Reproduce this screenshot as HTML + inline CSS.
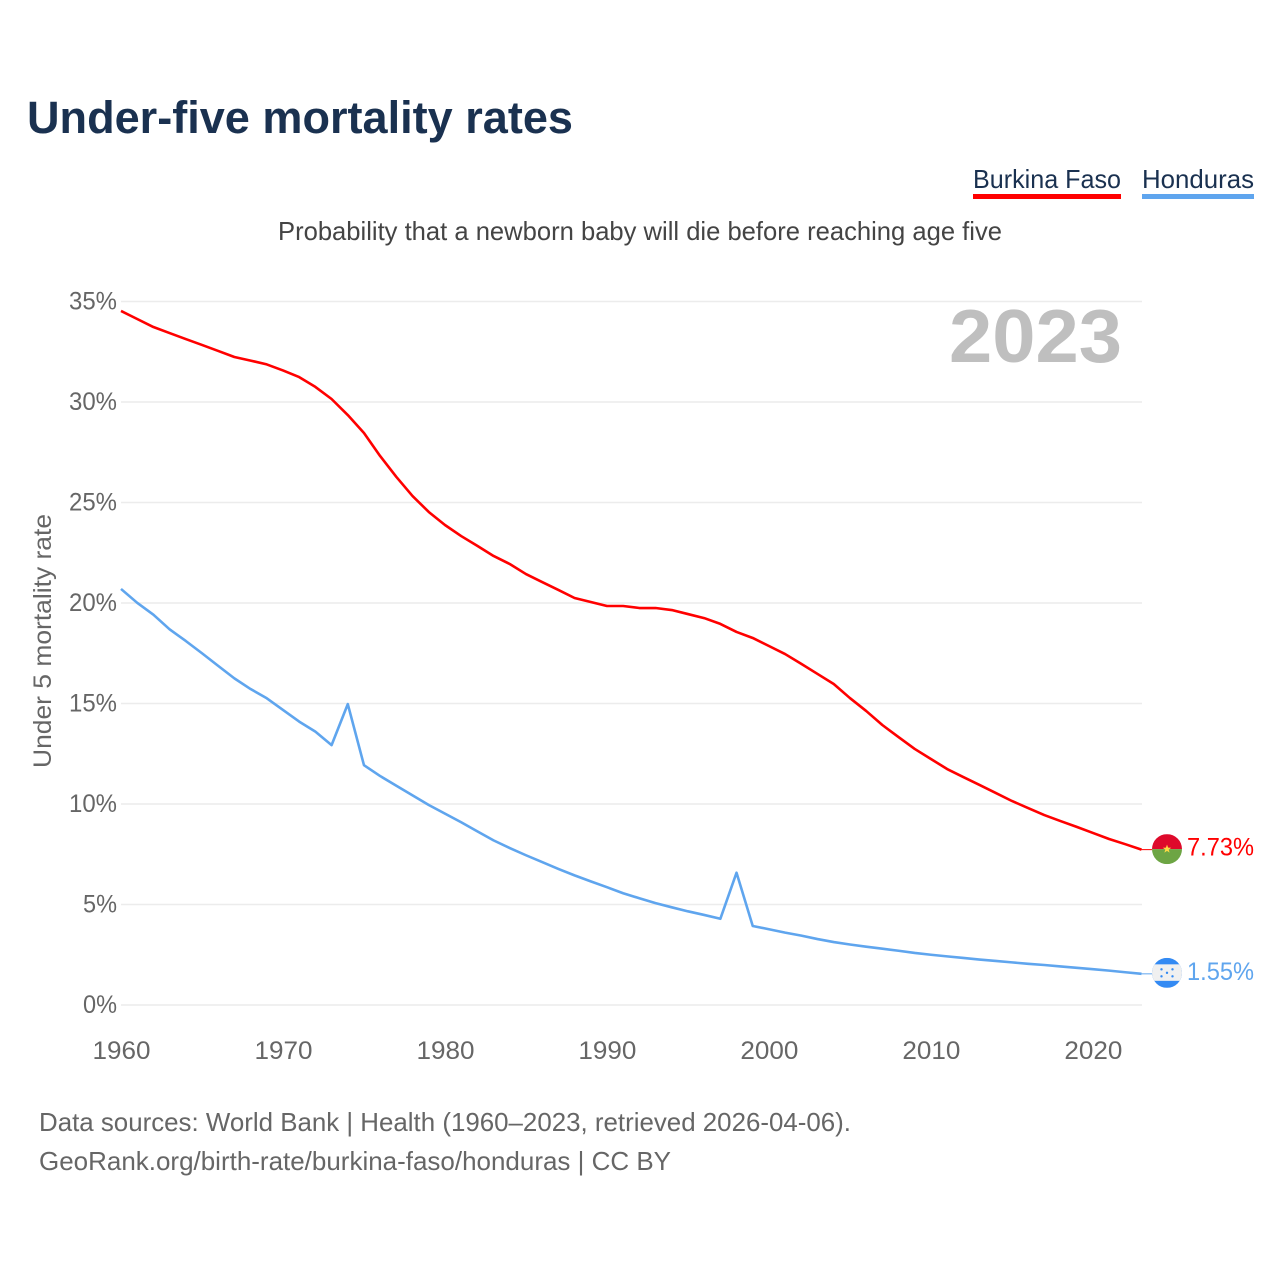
<!DOCTYPE html>
<html lang="en">
<head>
<meta charset="utf-8">
<title>Under-five mortality rates</title>
<style>
html,body{margin:0;padding:0;background:#fff;width:1280px;height:1280px;overflow:hidden}
svg{display:block;font-family:"Liberation Sans",Arial,sans-serif}
</style>
</head>
<body>
<svg id="chart" xmlns="http://www.w3.org/2000/svg" width="1280" height="1280" viewBox="0 0 1280 1280">
  <text x="27" y="133" font-size="45" font-weight="700" fill="#1a3150" textLength="546" lengthAdjust="spacingAndGlyphs">Under-five mortality rates</text>
  <g>
    <g>
      <text x="973" y="188" font-size="26" fill="#1a3150" textLength="148" lengthAdjust="spacingAndGlyphs">Burkina Faso</text>
      <rect x="973" y="194" width="148" height="5" fill="#ff0000"/>
    </g>
    <g>
      <text x="1142" y="188" font-size="26" fill="#1a3150" textLength="112" lengthAdjust="spacingAndGlyphs">Honduras</text>
      <rect x="1142" y="194" width="112" height="5" fill="#5fa5ee"/>
    </g>
  </g>
  <text x="278" y="240" font-size="26" fill="#444444" textLength="724" lengthAdjust="spacingAndGlyphs">Probability that a newborn baby will die before reaching age five</text>
  <g id="grid"></g>
  <g id="yticks"></g>
  <g id="xticks"></g>
  <text transform="translate(51,641) rotate(-90)" text-anchor="middle" font-size="25" fill="#666666" textLength="254" lengthAdjust="spacingAndGlyphs">Under 5 mortality rate</text>
  <text x="949" y="362" font-size="75" font-weight="700" fill="#bfbfbf" textLength="173" lengthAdjust="spacingAndGlyphs">2023</text>
  <g id="series"></g>
  <g id="flag-bf">
    <clipPath id="clip-bf"><circle cx="0" cy="0" r="15"/></clipPath>
    <g clip-path="url(#clip-bf)">
      <rect x="-15" y="-15" width="30" height="15" fill="#de0a2b"/>
      <rect x="-15" y="0" width="30" height="15" fill="#6da544"/>
      <polygon points="0,-4.5 1.1,-1.5 4.2,-1.4 1.7,0.5 2.6,3.5 0,1.7 -2.6,3.5 -1.7,0.5 -4.2,-1.4 -1.1,-1.5" fill="#ffda44"/>
    </g>
  </g>
  <g id="flag-hn">
    <clipPath id="clip-hn"><circle cx="0" cy="0" r="15"/></clipPath>
    <g clip-path="url(#clip-hn)">
      <rect x="-15" y="-15" width="30" height="30" fill="#338af3"/>
      <rect x="-15" y="-8.5" width="30" height="16.5" fill="#f0f0f0"/>
      <g fill="#338af3">
        <circle cx="-5.5" cy="-3.5" r="1.2"/><circle cx="5.5" cy="-3.5" r="1.2"/>
        <circle cx="0" cy="0" r="1.2"/>
        <circle cx="-5.5" cy="3.5" r="1.2"/><circle cx="5.5" cy="3.5" r="1.2"/>
      </g>
    </g>
  </g>
  <g id="endlabels"></g>
  <text x="39" y="1131" font-size="26" fill="#666666" textLength="812" lengthAdjust="spacingAndGlyphs">Data sources: World Bank | Health (1960–2023, retrieved 2026-04-06).</text>
  <text x="39" y="1170" font-size="26" fill="#666666" textLength="632" lengthAdjust="spacingAndGlyphs">GeoRank.org/birth-rate/burkina-faso/honduras | CC BY</text>
</svg>
<script>
const startYear = 1960;
const endYear = 2023;
const xTickYears = [1960, 1970, 1980, 1990, 2000, 2010, 2020];
const yTickValues = [0, 5, 10, 15, 20, 25, 30, 35];
const burkinaFasoValues = [
  34.53, 34.13, 33.73, 33.43, 33.13, 32.84, 32.54, 32.24, 32.06, 31.87,
  31.57, 31.24, 30.75, 30.15, 29.35, 28.46, 27.31, 26.27, 25.32, 24.53,
  23.88, 23.33, 22.84, 22.34, 21.94, 21.44, 21.04, 20.65, 20.25, 20.05,
  19.85, 19.85, 19.75, 19.75, 19.65, 19.45, 19.25, 18.96, 18.56, 18.26,
  17.86, 17.46, 16.97, 16.47, 15.97, 15.27, 14.63, 13.93, 13.33, 12.74,
  12.24, 11.74, 11.34, 10.95, 10.55, 10.15, 9.80, 9.45, 9.15, 8.86,
  8.56, 8.26, 8.00, 7.73
];
const hondurasValues = [
  20.70, 20.01, 19.42, 18.69, 18.11, 17.50, 16.87, 16.25, 15.72, 15.26,
  14.68, 14.10, 13.60, 12.93, 14.97, 11.93, 11.39, 10.91, 10.43, 9.95,
  9.52, 9.09, 8.64, 8.19, 7.81, 7.45, 7.11, 6.77, 6.45, 6.15,
  5.86, 5.56, 5.31, 5.07, 4.86, 4.66, 4.48, 4.29, 6.58, 3.93,
  3.77, 3.60, 3.45, 3.28, 3.13, 3.01, 2.90, 2.80, 2.70, 2.59,
  2.50, 2.42, 2.34, 2.26, 2.19, 2.12, 2.05, 1.99, 1.92, 1.85,
  1.78, 1.71, 1.63, 1.55
];

const NS = 'http://www.w3.org/2000/svg';
const plotLeft = 121, plotRight = 1141.5, gridRight = 1142, plotBottom = 1005, plotTop = 301.5, yMax = 35;
function xScale(year) {
  return plotLeft + (year - startYear) * (plotRight - plotLeft) / (endYear - startYear);
}
function yScale(value) {
  return plotBottom - value * (plotBottom - plotTop) / yMax;
}
function make(tag, attrs, text) {
  const el = document.createElementNS(NS, tag);
  for (const k in attrs) el.setAttribute(k, attrs[k]);
  if (text !== undefined) el.textContent = text;
  return el;
}
const grid = document.getElementById('grid');
const yticks = document.getElementById('yticks');
const xticks = document.getElementById('xticks');
const series = document.getElementById('series');
const endlabels = document.getElementById('endlabels');

yTickValues.forEach(function (v) {
  const line = make('line', {x1: plotLeft, x2: gridRight, y1: yScale(v), y2: yScale(v), stroke: '#ececec', 'stroke-width': 1.6});
  
  
  grid.appendChild(line);
  const labelText = v + '%';
  const label = make('text', {x: 117, y: yScale(v) + 8, 'text-anchor': 'end', 'font-size': 25, fill: '#666666', textLength: labelText.length === 2 ? 34 : 48, lengthAdjust: 'spacingAndGlyphs'}, labelText);
  
  
  yticks.appendChild(label);
});

xTickYears.forEach(function (yr) {
  const label = make('text', {x: xScale(yr) + 0.5, y: 1059, 'text-anchor': 'middle', 'font-size': 25, fill: '#666666', textLength: 58, lengthAdjust: 'spacingAndGlyphs'}, String(yr));
  
  
  xticks.appendChild(label);
});

function linePoints(values) {
  return values.map(function (v, i) {
    return xScale(startYear + i).toFixed(2) + ',' + yScale(v).toFixed(2);
  }).join(' ');
}

const bfLine = make('polyline', {points: linePoints(burkinaFasoValues), fill: 'none', stroke: '#ff0000', 'stroke-width': 2.6, 'stroke-linejoin': 'round'});


series.appendChild(bfLine);

const hnLine = make('polyline', {points: linePoints(hondurasValues), fill: 'none', stroke: '#5fa5ee', 'stroke-width': 2.6, 'stroke-linejoin': 'round'});


series.appendChild(hnLine);

const bfLast = burkinaFasoValues[burkinaFasoValues.length - 1];
const hnLast = hondurasValues[hondurasValues.length - 1];

const bfConn = make('line', {x1: plotRight, x2: 1152, y1: yScale(bfLast), y2: yScale(bfLast), stroke: '#ff0000', 'stroke-width': 1});


series.appendChild(bfConn);

const hnConn = make('line', {x1: plotRight, x2: 1152, y1: yScale(hnLast), y2: yScale(hnLast), stroke: '#5fa5ee', 'stroke-width': 1});


series.appendChild(hnConn);

document.getElementById('flag-bf').setAttribute('transform', 'translate(1167,' + (yScale(bfLast) - 0.5) + ')');
document.getElementById('flag-hn').setAttribute('transform', 'translate(1167,' + (yScale(hnLast) - 1) + ')');

const bfLabel = make('text', {x: 1187, y: yScale(bfLast) + 6, 'font-size': 25, fill: '#ff0000', textLength: 67, lengthAdjust: 'spacingAndGlyphs'}, bfLast.toFixed(2) + '%');


endlabels.appendChild(bfLabel);

const hnLabel = make('text', {x: 1187, y: yScale(hnLast) + 6, 'font-size': 25, fill: '#5fa5ee', textLength: 67, lengthAdjust: 'spacingAndGlyphs'}, hnLast.toFixed(2) + '%');


endlabels.appendChild(hnLabel);
</script>
</body>
</html>
